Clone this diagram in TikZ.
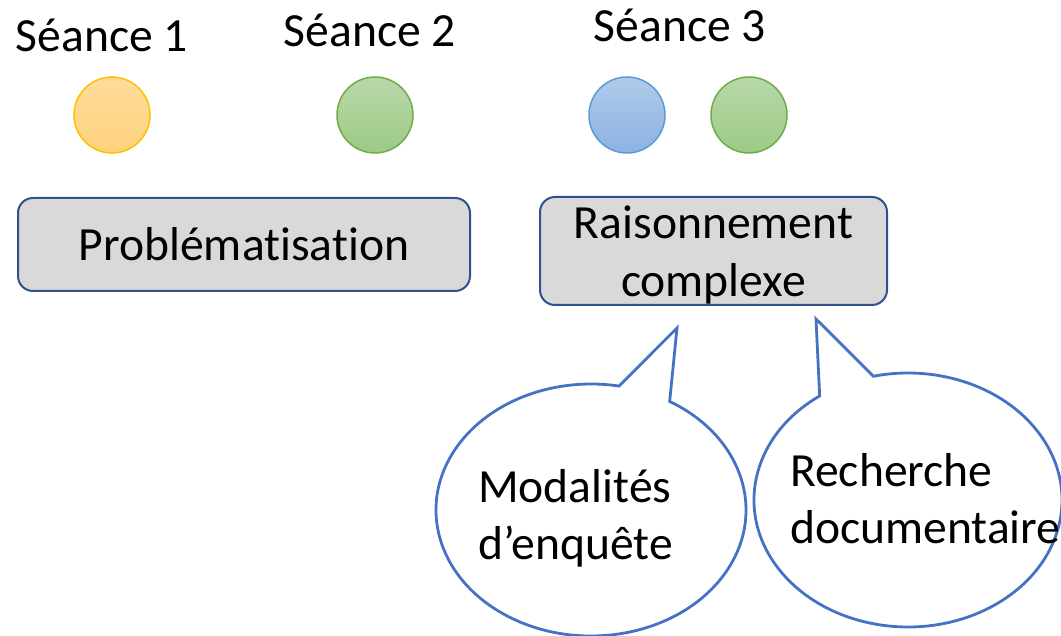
\documentclass[tikz,border=0pt]{standalone}
\usepackage{fontspec}
\setmainfont{Carlito}[RawFeature=-liga]
\usetikzlibrary{positioning}
\usetikzlibrary{calc}

\definecolor{boxgray}{HTML}{D9D9D9}
\definecolor{boxblue}{HTML}{2F528F}
\definecolor{callblue}{HTML}{4472C4}
\definecolor{orangeline}{HTML}{FFC000}
\definecolor{orangetop}{HTML}{FFDB9C}
\definecolor{orangebot}{HTML}{FFD27C}
\definecolor{greenline}{HTML}{70AD47}
\definecolor{greentop}{HTML}{B8D8AA}
\definecolor{greenbot}{HTML}{9DCA85}
\definecolor{blueline}{HTML}{5B9BD5}
\definecolor{bluetop}{HTML}{B1CAEB}
\definecolor{bluebot}{HTML}{8CB3E2}

\tikzset{
	seance/.style={anchor=base, inner sep=0pt, font=\fontsize{47.6}{58}\selectfont},
	dot/.style={circle, draw, minimum size=76pt, inner sep=0pt, line width=1.5pt},
	orangedot/.style={dot, draw=orangeline, top color=orangetop, bottom color=orangebot},
	greendot/.style={dot, draw=greenline, top color=greentop, bottom color=greenbot},
	bluedot/.style={dot, draw=blueline, top color=bluetop, bottom color=bluebot},
	phase/.style={draw=boxblue, fill=boxgray, rounded corners=15pt, line width=2pt, align=center, font=\fontsize{47.6}{58}\selectfont},
	bulle/.style={draw=callblue, fill=white, line width=2.8pt, line join=miter},
	bulletext/.style={anchor=west, inner sep=0pt, align=left, font=\fontsize{47.6}{57}\selectfont}
}

\begin{document}
\begin{tikzpicture}[x=1pt, y=1pt]
	\useasboundingbox (0,0) rectangle (1061,636);

	% sessions
	\node[seance] (sea1) at (102,584) {Séance 1};
	\node[seance] (sea2) at (370,589) {Séance 2};
	\node[seance] (sea3) at (680,594) {Séance 3};

	\node[orangedot] (d1) at (112,521) {};
	\node[greendot] (d2) at (375,521) {};
	\node[bluedot] (d3) at (627,521) {};
	\node[greendot] (d4) at (749,521) {};

	% phases
	\node[phase, minimum width=452pt, minimum height=93pt] (prob) at (244,391.5) {Problématisation};
	\node[phase, minimum width=347pt, minimum height=108pt, text depth=0pt] (rais) at (713.5,385) {Raisonnement\\complexe};

	% callouts
	\coordinate (lc) at (591,126);
	\coordinate (ltip) at (677,308);
	\draw[bulle] ($(lc)+(79.6:155pt and 126pt)$) -- (ltip) -- ($(lc)+(59.5:155pt and 126pt)$)
		arc[start angle=59.5, end angle=-280.4, x radius=155pt, y radius=126pt] -- cycle;

	\coordinate (rc) at (908,136);
	\coordinate (rtip) at (816,317);
	\draw[bulle] ($(rc)+(103:154pt and 127pt)$) -- (rtip) -- ($(rc)+(125:154pt and 127pt)$)
		arc[start angle=125, end angle=463, x radius=154pt, y radius=127pt] -- cycle;

	\node[bulletext] (moda) at (478,118) {Modalités\\d’enquête};
	\node[bulletext] (rech) at (790,137) {Recherche\\documentaire};

\end{tikzpicture}
\end{document}
